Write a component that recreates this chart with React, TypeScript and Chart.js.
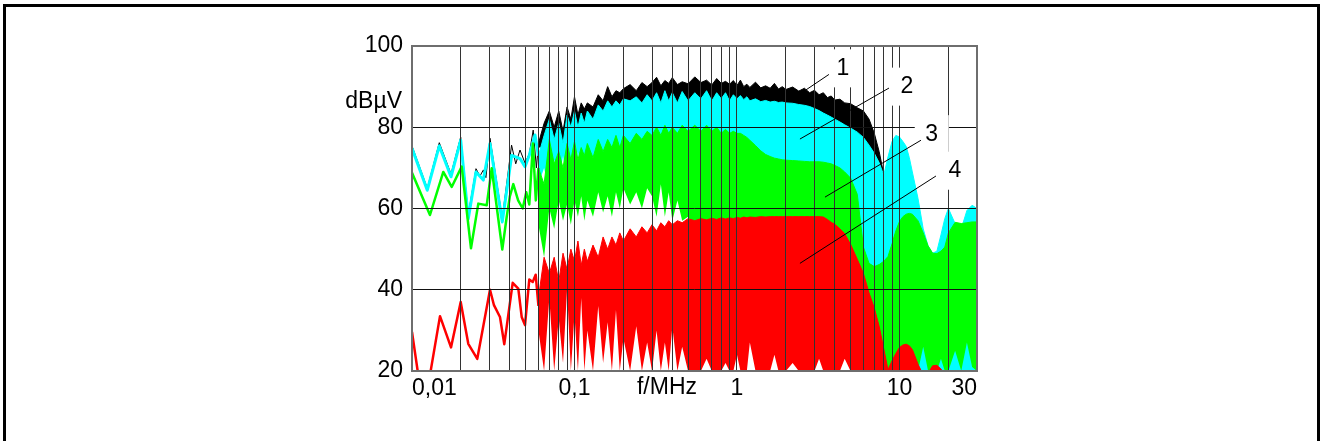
import React, { useEffect, useRef } from 'react';
import { Chart, registerables } from 'chart.js';

Chart.register(...registerables);

// ---------- axes ----------
const xTickValues = [0.01, 0.1, 1, 10, 30];
const xTickLabels = ['0,01', '0,1', '1', '10', '30'];
const xGridValues = [
  0.01, 0.02, 0.03, 0.04, 0.05, 0.06, 0.07, 0.08, 0.09,
  0.1, 0.2, 0.3, 0.4, 0.5, 0.6, 0.7, 0.8, 0.9,
  1, 2, 3, 4, 5, 6, 7, 8, 9,
  10, 20, 30,
];
const yMin = 20;
const yMax = 100;
const yStep = 20;

// ---------- low-frequency single traces: [f / MHz, level / dBµV] ----------
const blackLow = [
  [0.01, 75.4], [0.01242, 65], [0.01472, 76.2], [0.01738, 68.5], [0.01994, 77.6],
  [0.0222, 58.5], [0.02476, 69.8], [0.0262, 68], [0.0275, 69.5], [0.0285, 67.6],
  [0.0302, 77.3], [0.03594, 57.6], [0.041, 75.6], [0.0435, 71], [0.0462, 74.4],
  [0.0496, 71.2], [0.0527, 73.5], [0.0557, 79.3], [0.0583, 70], [0.06, 76],
];
const cyanLow = [
  [0.01, 74.8], [0.01242, 64.5], [0.01472, 75.4], [0.01738, 67.8], [0.01994, 76.8],
  [0.0222, 57.5], [0.02476, 69], [0.02747, 67], [0.0302, 76], [0.03594, 56.7],
  [0.04107, 73.1], [0.04619, 72.3], [0.04959, 70.3], [0.0527, 73.1], [0.05715, 78.1],
  [0.06, 73],
];
const greenLow = [
  [0.01, 68.8], [0.0129, 58.4], [0.01558, 69], [0.01755, 65.3], [0.02022, 70.3],
  [0.02307, 50.2], [0.02559, 61.2], [0.02883, 60.8], [0.03094, 69.9], [0.03594, 49.9],
  [0.03826, 57.9], [0.04, 63], [0.04202, 66], [0.045, 62], [0.048, 60],
  [0.0505, 64], [0.0527, 61], [0.0555, 76], [0.0578, 62], [0.06, 70],
];
const redLow = [
  [0.01, 29.6], [0.01093, 19], [0.0129, 19], [0.01487, 33.5], [0.01738, 25.8],
  [0.01994, 37], [0.0222, 26.7], [0.02522, 23], [0.0302, 40], [0.03195, 36.2],
  [0.03479, 33.3], [0.03698, 26.6], [0.04166, 41.7], [0.0451, 40.3], [0.04732, 33.3],
  [0.04959, 31.3], [0.0527, 42.5], [0.05533, 41.9], [0.0577, 43.7], [0.06, 36],
];

// ---------- dense part of the spectra: common frequency grid (MHz) ----------
const freqGrid = [
  0.06, 0.065, 0.07, 0.075, 0.08, 0.085, 0.09, 0.095,
  0.1, 0.105, 0.11, 0.115, 0.12, 0.13, 0.14, 0.15, 0.16, 0.17, 0.18, 0.19, 0.2, 0.22, 0.24, 0.26, 0.28,
  0.3, 0.32, 0.34, 0.36, 0.38, 0.4, 0.43, 0.46, 0.5, 0.55, 0.6, 0.65, 0.7, 0.75, 0.8, 0.85, 0.9, 0.95,
  1, 1.05, 1.1, 1.15, 1.2, 1.3, 1.4, 1.5, 1.6, 1.7, 1.8, 1.9, 2, 2.2, 2.4, 2.6, 2.8,
  3, 3.2, 3.4, 3.6, 3.8, 4, 4.3, 4.6, 5, 5.5, 6, 6.5, 7, 7.5, 8, 8.5, 9, 9.5,
  10, 10.5, 11, 11.5, 12, 13, 14, 15, 16, 17, 18, 19, 20, 22, 24, 26, 28, 30,
];

// curve 1 (black): upper / lower edge of the dense band
const blackTop = [
  76, 81, 84, 80, 84, 79, 85, 82,
  87.5, 83, 86, 84.5, 86, 85, 88, 86.5, 90, 87.5, 89, 88.5, 89.5, 90.5, 89, 91, 90,
  91, 92.3, 90.2, 91.5, 90.8, 92.2, 90.5, 91.2, 90.7, 92.4, 91, 91.6, 90.4, 92, 90.8, 91.3, 90.6, 91.5,
  90.3, 91.6, 90, 90.6, 89.8, 91.1, 89.7, 90.2, 89.6, 90.8, 89.4, 90, 89.3, 89.9, 88.9, 89.6, 88.5,
  89.1, 88, 88.5, 87.3, 87.7, 86.7, 86.9, 86, 85.8, 84.8, 84, 82, 78.5, 74, 68.5,
];
const blackBot = [
  75, 75, 75, 75, 75, 75, 75, 75,
  75, 75, 75, 75, 75, 75, 75, 75, 75, 75, 75, 75, 75, 75, 75, 75, 75,
  75, 75, 75, 75, 75, 75, 75, 75, 75, 75, 75, 75, 75, 75, 75, 75, 75, 75,
  75, 75, 75, 75, 75, 75, 75, 75, 75, 75, 75, 75, 75, 75, 75, 75, 75,
  75, 75, 75, 75, 75, 75, 75, 74, 74, 73, 72, 71, 70, 68, 66,
];

// curve 2 (cyan)
const cyanTop = [
  73, 78, 82, 77, 81, 76, 83, 80,
  84, 80, 83.5, 81, 84, 82, 85.5, 84, 86.5, 85, 86.5, 85.5, 87, 86.5, 87.5, 86, 88,
  86.5, 88.5, 86, 89, 86.5, 88.5, 86, 88.8, 86.5, 88.5, 87, 89, 86.5, 88.5, 87, 88.5, 86.5, 88,
  87, 87.8, 86.8, 87.5, 86.5, 87, 86.3, 86.6, 86.2, 86.4, 86.1, 86.2, 86, 85.9, 85.6, 85.4, 85.1,
  84.6, 84.1, 83.5, 83, 82.5, 82, 81.3, 80.6, 79.8, 78.8, 77.5, 75.6, 73.6, 71.3, 68.2, 72.7, 76.5, 78,
  77.6, 76.5, 75.3, 72.5, 69, 62.5, 55, 50.8, 49, 49.5, 53.5, 57.5, 60, 56.3, 55, 59.5, 60.8, 60,
];
const cyanBot = [
  66, 70, 64, 72, 66, 73, 65, 71,
  66, 74, 67, 72, 65, 73, 68, 74, 67, 73, 68, 75, 69, 74, 68, 73, 70,
  70, 70, 70, 70, 70, 70, 70, 70, 70, 70, 70, 70, 70, 70, 70, 70, 70, 70,
  70, 70, 70, 70, 70, 70, 70, 70, 70, 70, 70, 70, 70, 70, 70, 70, 70,
  70, 70, 70, 70, 70, 70, 60, 50, 40, 20, 20, 20, 20, 20, 20, 20, 20, 20,
  20, 20, 20, 20, 20, 20, 20, 20, 20, 20, 20, 20, 20, 20, 20, 20, 20, 20,
];

// curve 3 (green)
const greenTop = [
  70, 66, 77, 71, 74, 70, 76, 72,
  76.5, 72, 75, 73, 76, 72.5, 77, 74, 77, 75, 78, 75, 78, 76, 78.5, 77, 79,
  78, 80, 78, 80.5, 78.5, 80, 78.5, 80.5, 79, 80.5, 79, 80.5, 79, 80, 78.5, 79.5, 78.5, 79,
  78.5, 78.5, 78, 77.5, 76.8, 75.5, 74.2, 73.3, 72.8, 72.4, 72.2, 72, 71.9, 71.8, 71.7, 71.6, 71.5,
  71.5, 71.5, 71.4, 71.2, 71, 70.6, 70, 69, 67.5, 63.5, 50.5, 46.5, 45.7, 46.2, 47, 48.2, 51.3, 54.5,
  56.8, 58, 58.6, 58.8, 58.6, 57, 54, 50.8, 49, 48.9, 49.5, 50.5, 54, 56.6, 56.3, 56.5, 56.7, 56.7,
];
const greenBot = [
  56, 48, 60, 55, 62, 57, 61, 56,
  62, 58, 63, 57, 62, 58, 64, 59, 63, 58, 64, 60, 65, 61, 64, 60, 65,
  63, 58, 66, 58, 64, 57, 62, 57, 58, 55, 55, 55, 55, 55, 55, 55, 55, 55,
  55, 55, 55, 55, 55, 55, 55, 55, 55, 55, 55, 55, 55, 55, 55, 55, 55,
  55, 55, 55, 55, 55, 55, 52, 46, 38, 20, 20, 20, 20, 20, 20, 20, 20, 20,
  20, 20, 20, 20, 20, 20, 26, 20, 20, 20, 23, 20, 20, 25, 20, 27, 21, 20,
];

// curve 4 (red)
const redTop = [
  38, 48, 44, 48, 42, 49, 45, 50,
  47, 52, 46, 50, 47, 51, 48, 53, 50, 53, 51, 54, 52, 55, 53, 55.5, 54,
  56, 54.5, 56.5, 55.5, 57, 56, 57, 56.5, 57.5, 57, 57.5, 57.2, 57.6, 57.3, 57.7, 57.4, 57.7, 57.5,
  57.8, 57.6, 57.9, 57.7, 57.9, 57.8, 58, 57.9, 58, 58, 58, 58, 58, 58, 58, 58, 58,
  58, 58, 57.9, 57.3, 56.6, 56.1, 55, 53.8, 51.2, 47.5, 44, 39.2, 35.5, 31, 25.5, 20.3, 22.5, 24.3,
  25.8, 26.4, 26.6, 26.2, 25.3, 21.7, 19, 19.5, 21.3, 21.4, 20.5, 19, 19, 19, 19, 19, 19, 19,
];
const redBot = [
  30, 20, 38, 20, 33, 22, 40, 20,
  34, 20, 38, 20, 30, 20, 36, 22, 32, 20, 35, 20, 28, 20, 31, 20, 27,
  20, 30, 20, 27, 20, 31, 20, 26, 20, 20, 20, 23, 20, 20, 20, 22, 20, 20,
  24, 20, 20, 20, 27, 20, 20, 20, 20, 24, 20, 20, 20, 22, 20, 20, 20,
  20, 23, 20, 20, 20, 20, 20, 23, 20, 20, 20, 20, 20, 20, 20, 20, 20, 20,
  20, 20, 20, 20, 20, 20, 20, 20, 20, 20, 20, 20, 20, 20, 20, 20, 20, 20,
];

// ---------- annotations (data coordinates) ----------
const curveLabels = ['1', '2', '3', '4'];
const curveLabelF = [4.49, 11.1, 15.8, 21.9];
const curveLabelV = [94.5, 90, 78.3, 69.3];
const leaderFrom = [[3.68, 93.0], [8.62, 89.65], [13.56, 76.8], [16.77, 68.0]];
const leaderTo = [[2.66, 89.2], [2.44, 77.1], [3.48, 62.8], [2.44, 46.5]];
const yTitle = 'dBµV';
const yTitleLevel = 86.3;
const xTitle = 'f/MHz';
const xTitleFreq = 0.371;

// ---------- styling ----------
const FONT_FAMILY = '"Liberation Sans", Arial, Helvetica, sans-serif';
const FONT_SIZE = 23;
const C_BLACK = '#000000';
const C_CYAN = '#00ffff';
const C_GREEN = '#00ff00';
const C_RED = '#ff0000';

const toPts = (pairs: number[][]) => pairs.map(([x, y]) => ({ x, y }));
const onGrid = (vals: number[]) => vals.map((y, i) => ({ x: freqGrid[i], y }));

const overlayPlugin = {
  id: 'overlay',
  afterDraw(chart: any) {
    const { ctx, chartArea: a, scales } = chart;
    const xs = scales.x;
    const ys = scales.y;
    ctx.save();
    // plot frame
    ctx.strokeStyle = '#6e6e6e';
    ctx.lineWidth = 2;
    ctx.strokeRect(a.left, a.top, a.right - a.left, a.bottom - a.top);
    // white boxes behind curve numbers
    ctx.fillStyle = '#ffffff';
    curveLabels.forEach((_, i) => {
      const px = xs.getPixelForValue(curveLabelF[i]);
      const py = ys.getPixelForValue(curveLabelV[i]);
      ctx.fillRect(px - 17, py - 19, 34, 38);
    });
    // leader lines
    ctx.strokeStyle = '#000';
    ctx.lineWidth = 1;
    leaderFrom.forEach((p, i) => {
      const q = leaderTo[i];
      ctx.beginPath();
      ctx.moveTo(xs.getPixelForValue(p[0]), ys.getPixelForValue(p[1]));
      ctx.lineTo(xs.getPixelForValue(q[0]), ys.getPixelForValue(q[1]));
      ctx.stroke();
    });
    // texts
    ctx.fillStyle = '#000';
    ctx.font = `${FONT_SIZE}px ${FONT_FAMILY}`;
    ctx.textAlign = 'center';
    ctx.textBaseline = 'middle';
    curveLabels.forEach((t, i) => {
      ctx.fillText(t, xs.getPixelForValue(curveLabelF[i]), ys.getPixelForValue(curveLabelV[i]));
    });
    ctx.textAlign = 'right';
    ctx.fillText(yTitle, a.left - 10, ys.getPixelForValue(yTitleLevel));
    ctx.textAlign = 'center';
    ctx.fillText(xTitle, xs.getPixelForValue(xTitleFreq), a.bottom + 17);
    ctx.restore();
  },
};

function lineDs(data: any[], color: string, width: number, order: number) {
  return {
    data,
    borderColor: color,
    backgroundColor: color,
    borderWidth: width,
    pointRadius: 0,
    fill: false,
    order,
  };
}
function bandBottom(vals: number[], order: number) {
  return {
    data: onGrid(vals),
    borderColor: 'rgba(0,0,0,0)',
    backgroundColor: 'rgba(0,0,0,0)',
    borderWidth: 1,
    pointRadius: 0,
    fill: false,
    order,
  };
}
function bandTop(vals: number[], color: string, order: number) {
  return {
    data: onGrid(vals),
    borderColor: color,
    backgroundColor: color,
    borderWidth: 1,
    pointRadius: 0,
    fill: '-1',
    order,
  };
}

export default function App() {
  const ref = useRef<HTMLCanvasElement>(null);

  useEffect(() => {
    const canvas = ref.current;
    if (!canvas) return;
    Chart.defaults.font.family = FONT_FAMILY;

    const datasets: any[] = [
      // red (front)
      bandBottom(redBot, 1),
      bandTop(redTop, C_RED, 1),
      lineDs(toPts(redLow), C_RED, 2.5, 1),
      // green
      bandBottom(greenBot, 2),
      bandTop(greenTop, C_GREEN, 2),
      lineDs(toPts(greenLow), C_GREEN, 2.5, 2),
      // cyan
      bandBottom(cyanBot, 3),
      bandTop(cyanTop, C_CYAN, 3),
      lineDs(toPts(cyanLow), C_CYAN, 3, 3),
      // black (back)
      bandBottom(blackBot, 4),
      bandTop(blackTop, C_BLACK, 4),
      lineDs(toPts(blackLow), C_BLACK, 1, 4),
    ];

    const font = { family: FONT_FAMILY, size: FONT_SIZE };

    const chart = new Chart(canvas, {
      type: 'line',
      data: { datasets },
      options: {
        animation: false,
        responsive: false,
        devicePixelRatio: 1,
        events: [],
        layout: { padding: { left: 352, right: 344, top: 46, bottom: 30 } },
        elements: {
          point: { radius: 0 },
          line: { tension: 0, borderJoinStyle: 'round' },
        },
        plugins: {
          legend: { display: false },
          tooltip: { enabled: false },
          filler: { propagate: false, drawTime: 'beforeDatasetDraw' },
        },
        scales: {
          x: {
            type: 'logarithmic',
            min: xTickValues[0],
            max: xTickValues[xTickValues.length - 1],
            z: 1,
            afterBuildTicks: (s: any) => {
              s.ticks = xGridValues.map((v) => ({ value: v }));
            },
            afterFit: (s: any) => {
              s.height = 40;
            },
            ticks: {
              autoSkip: false,
              maxRotation: 0,
              minRotation: 0,
              align: 'inner',
              padding: 4,
              color: '#000',
              font,
              callback: (v: any) => {
                const i = xTickValues.findIndex((t) => Math.abs(t - Number(v)) < t * 1e-6);
                return i >= 0 ? xTickLabels[i] : '';
              },
            },
            grid: { color: '#333333', lineWidth: 1, drawTicks: false, z: 1 },
            border: { display: false },
          },
          y: {
            type: 'linear',
            min: yMin,
            max: yMax,
            z: 1,
            afterFit: (s: any) => {
              s.width = 60;
            },
            ticks: {
              stepSize: yStep,
              padding: 9,
              color: '#000',
              font,
              callback: (v: any) => String(v),
            },
            grid: { color: '#111111', lineWidth: 1, drawTicks: false, z: 1 },
            border: { display: false },
          },
        },
      } as any,
      plugins: [overlayPlugin],
    });

    return () => chart.destroy();
  }, []);

  return (
    <div
      style={{
        position: 'fixed',
        left: 0,
        top: 0,
        width: 1321,
        height: 441,
        background: '#ffffff',
        overflow: 'hidden',
      }}
    >
      <canvas
        ref={ref}
        width={1321}
        height={441}
        style={{ position: 'absolute', left: 0, top: 0, width: 1321, height: 441 }}
      />
      <div
        style={{
          position: 'absolute',
          left: 3,
          top: 4,
          width: 1317,
          height: 445,
          border: '3px solid #000',
          borderBottom: 'none',
          boxSizing: 'border-box',
          pointerEvents: 'none',
        }}
      />
    </div>
  );
}
